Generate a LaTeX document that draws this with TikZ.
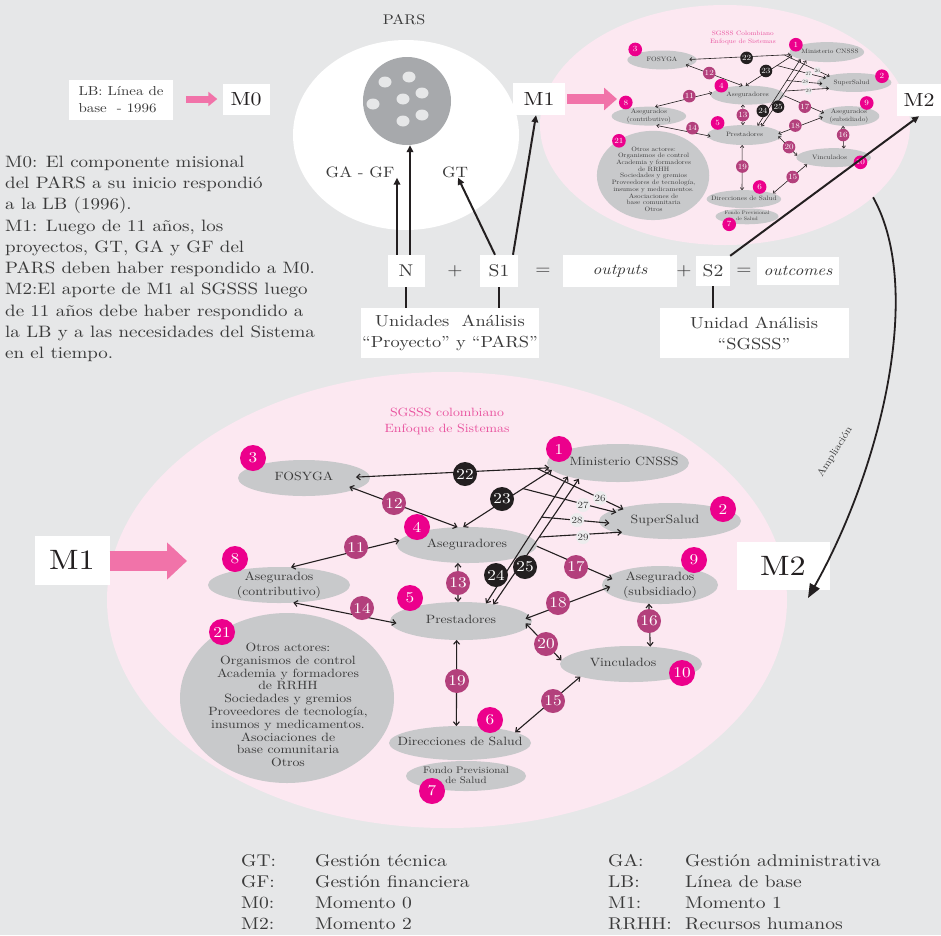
\documentclass[tikz,border=0pt]{standalone}
\usepackage{fontspec}
\setmainfont{lmroman10-regular.otf}[FakeStretch=1.15, ItalicFont=lmroman10-italic.otf, BoldFont=lmroman10-bold.otf]
\usetikzlibrary{arrows.meta,shapes.geometric,calc}
\definecolor{bg}{HTML}{E6E7E8}
\definecolor{pinkbg}{HTML}{FCE8F1}
\definecolor{nodegray}{HTML}{C8C9CB}
\definecolor{badgec}{HTML}{EC008C}
\definecolor{purplec}{HTML}{B3407C}
\definecolor{blackc}{HTML}{231F20}
\definecolor{titlec}{HTML}{E9519E}
\definecolor{arrowpink}{HTML}{F173A9}
\definecolor{txt}{HTML}{3A3A3A}
\definecolor{wlabc}{HTML}{EDEDEE}
\definecolor{parsgray}{HTML}{A7A9AC}
\newcommand\fs[2]{\fontsize{#1}{#2}\selectfont}
\newcommand\ct[1]{\makebox[0pt]{\smash{\raisebox{-0.25em}{\begin{tabular}{@{}c@{}}#1\end{tabular}}}}}
\tikzset{
 actor/.style 2 args={ellipse, fill=nodegray, inner sep=0pt, outer sep=0pt, minimum width=#1, minimum height=#2, text=txt, font=\fs{12}{14.5}},
 ttl/.style={text=titlec, align=center, font=\fs{12}{16}},
 otext/.style={text=txt, align=center, font=\fs{12}{12.8}, inner sep=0pt},
 badge/.style={circle, fill=badgec, text=white, inner sep=0pt, minimum size=26pt, font=\fs{15}{15}},
 lab/.style={circle, fill=purplec, text=white, inner sep=0pt, minimum size=24pt, font=\fs{15}{15}},
 blab/.style={lab, fill=blackc},
 wlab/.style={circle, fill=wlabc, text=txt, inner sep=0pt, minimum size=14pt, font=\fs{9.5}{9.5}},
 conn/.style={draw=blackc, line width=1.1pt},
 bi/.style={conn, <->},
 uni/.style={conn, ->},
 wbox/.style={fill=white, inner sep=0pt, text=txt},
 heavy/.style={draw=blackc, line width=2pt, -{Triangle[length=7pt,width=6.5pt]}},
 stem/.style={draw=blackc, line width=2.2pt},
 plain/.style={text=txt, inner sep=0pt},
}
\newcommand\sgsss[3]{%
 \node[ttl] (#1ttl) at #3 {#2\\Enfoque de Sistemas};
 \node[actor={132pt}{36pt}, outer xsep=-14pt] (#1fos) at (304,478) {\ct{FOSYGA}};
 \node[actor={142pt}{38pt}] (#1min) at (618,463) {\ct{\hspace*{12pt}Ministerio CNSSS}};
 \node[actor={142pt}{36pt}, outer xsep=-10pt] (#1sup) at (670,521) {\ct{SuperSalud\hspace*{10pt}}};
 \node[actor={140pt}{36pt}] (#1ase) at (467,545) {\ct{Aseguradores}};
 \node[actor={142pt}{36pt}] (#1con) at (279,585) {\ct{Asegurados\\(contributivo)}};
 \node[actor={142pt}{38pt}, outer xsep=-6pt] (#1pre) at (461,621) {\ct{Prestadores}};
 \node[actor={116pt}{38pt}, outer xsep=-8pt] (#1sub) at (660,585) {\ct{Asegurados\\(subsidiado)}};
 \node[actor={142pt}{36pt}] (#1vin) at (631,664) {\ct{Vinculados\hspace*{16pt}}};
 \node[actor={142pt}{34pt}] (#1dir) at (460,743) {\ct{Direcciones de Salud}};
 \node[actor={120pt}{30pt}, font=\fs{9.5}{10}] (#1fon) at (466,776) {\ct{Fondo Previsional\\de Salud}};
 \node[actor={214pt}{170pt}] (#1otr) at (287,698) {};
 \node[otext] (#1otrt) at (288,705) {Otros actores:\\Organismos de control\\Academia y formadores\\de RRHH\\Sociedades y gremios\\Proveedores de tecnología,\\insumos y medicamentos.\\Asociaciones de\\base comunitaria\\Otros};
 % connectors
 \draw[bi] (#1fos.1) -- coordinate[pos=0.936] (#1c26) (#1min.184);
 \draw[bi] (#1fos.349) -- (#1ase.118);
 \draw[bi] (#1ase.102) -- coordinate[pos=0.674] (#1c27) (#1min.186);
 \draw[bi] (#1pre.35) -- coordinate[pos=0.68] (#1c28) (#1min.195);
 \draw[bi] (#1pre.27) -- coordinate[pos=0.537] (#1c29) (#1min.202);
 \draw[uni] (#1c26) -- (#1sup.166);
 \draw[uni] (#1c27) -- (#1sup.171);
 \draw[uni] (#1c28) -- (#1sup.182);
 \draw[uni] (#1c29) -- (#1sup.193);
 \draw[bi] (#1con.56) -- (#1ase.176);
 \draw[bi] (#1ase.243) -- (#1pre.99);
 \draw[bi] (#1con.309) -- (#1pre.182);
 \draw[uni] (#1ase.359) -- (#1sub.173);
 \draw[bi] (#1pre.2) -- (#1sub.182);
 \draw[bi] (#1sub.239) -- (#1vin.42);
 \draw[bi] (#1pre.358) -- (#1vin.177);
 \draw[bi] (#1dir.11) -- (#1vin.194);
 \draw[bi] (#1pre.257) -- (#1dir.102);
 % connector labels
 \node[blab] (#1l22) at (465,474) {22};
 \node[lab]  (#1l12) at (394,503) {12};
 \node[blab] (#1l23) at (502,499) {23};
 \node[blab] (#1l24) at (496,575) {24};
 \node[blab] (#1l25) at (525,567) {25};
 \node[wlab] (#1l26) at (600,498) {26};
 \node[wlab] (#1l27) at (583,505) {27};
 \node[wlab] (#1l28) at (577,520) {28};
 \node[wlab] (#1l29) at (583,537) {29};
 \node[lab]  (#1l11) at (356,547) {11};
 \node[lab]  (#1l13) at (458,583) {13};
 \node[lab]  (#1l14) at (362,608) {14};
 \node[lab]  (#1l17) at (576,567) {17};
 \node[lab]  (#1l18) at (558,603) {18};
 \node[lab]  (#1l16) at (649,621) {16};
 \node[lab]  (#1l20) at (546,644) {20};
 \node[lab]  (#1l15) at (553,701) {15};
 \node[lab]  (#1l19) at (457,681) {19};
 % badges
 \node[badge] (#1b1) at (559,449) {1};
 \node[badge] (#1b2) at (723,509) {2};
 \node[badge] (#1b3) at (253,458) {3};
 \node[badge] (#1b4) at (417,527) {4};
 \node[badge] (#1b5) at (410,598) {5};
 \node[badge] (#1b6) at (490,720) {6};
 \node[badge] (#1b7) at (432,791) {7};
 \node[badge] (#1b8) at (235,559) {8};
 \node[badge] (#1b9) at (694,560) {9};
 \node[badge] (#1b10) at (682,673) {10};
 \node[badge] (#1b21) at (222,632) {21};
}
\begin{document}
\begin{tikzpicture}[x=1pt,y=-1pt, >={Straight Barb[length=3.5pt,width=6pt]}]
\useasboundingbox (0,0) rectangle (941,935);
\fill[bg] (0,0) rectangle (941,935);
% background ellipses
\node[ellipse, fill=pinkbg, minimum width=370pt, minimum height=240pt, inner sep=0pt] (smallell) at (725,125) {};
\node[ellipse, fill=pinkbg, minimum width=680pt, minimum height=456pt, inner sep=0pt] (bigell) at (447,600) {};
% small system copy
\begin{scope}[shift={(502.4,-191)}, scale=0.525, transform shape, conn/.append style={line width=0.6pt}, >={Straight Barb[length=2.2pt,width=3.6pt]}]
 \sgsss{s}{SGSSS Colombiano}{(458,436)}
\end{scope}
% big system
\sgsss{g}{SGSSS colombiano}{(447,421)}
% PARS
\node[plain, font=\fs{14}{14}] (parsttl) at (404,20) {PARS};
\node[ellipse, fill=white, minimum width=226pt, minimum height=190pt, inner sep=0pt] (parsell) at (406,135) {};
\node[circle, fill=parsgray, minimum size=88pt, inner sep=0pt] (parscirc) at (407,101) {};
\foreach \px/\py [count=\i] in {385/82, 409/77, 422/93, 403/99, 373/104, 403/121, 422/115}
  \fill[bg] (\px,\py) ellipse [x radius=6.5pt, y radius=5.5pt];
\node[plain, font=\fs{15}{15}] (gagf) at (360,172) {GA - GF};
\node[plain, font=\fs{15}{15}] (gt) at (455,172) {GT};
% equation row
\node[wbox, minimum width=37pt, minimum height=32pt, font=\fs{17}{17}] (n) at (406,271) {N};
\node[plain, font=\fs{17}{17}] (plus1) at (455,271) {+};
\node[wbox, minimum width=38pt, minimum height=32pt, font=\fs{17}{17}] (s1) at (499,271) {S1};
\node[plain, font=\fs{17}{17}] (eq1) at (543,271) {=};
\node[wbox, minimum width=114pt, minimum height=32pt, font=\fs{15}{15}\itshape] (outp) at (620,271) {outputs};
\node[plain, font=\fs{17}{17}] (plus2) at (684,271) {+};
\node[wbox, minimum width=34pt, minimum height=30pt, font=\fs{17}{17}] (s2) at (713,271) {S2};
\node[plain, font=\fs{17}{17}] (eq2) at (744,271) {=};
\node[wbox, minimum width=82pt, minimum height=28pt, font=\fs{15}{15}\itshape] (outc) at (798,271) {outcomes};
\node[wbox, minimum width=178pt, minimum height=50pt, align=center, font=\fs{16}{21}] (unid1) at (450,333) {Unidades\ \ Análisis\\“Proyecto” y “PARS”};
\node[wbox, minimum width=189pt, minimum height=50pt, align=center, font=\fs{16}{21}] (unid2) at (754,333) {Unidad Análisis\\“SGSSS”};
\draw[stem] (n.south) -- (n.south |- unid1.north);
\draw[stem] (s1.south) -- (s1.south |- unid1.north);
\draw[stem] (s2.south) -- (s2.south |- unid2.north);
% M boxes
\node[wbox, align=left, minimum width=104pt, minimum height=40pt, font=\fs{13}{17}] (lb) at (121,100) {LB: Línea de\\base\ \ - 1996};
\node[wbox, minimum width=47pt, minimum height=31pt, font=\fs{19}{19}, text=blackc] (m0) at (246,99) {M0};
\node[wbox, minimum width=52pt, minimum height=32pt, font=\fs{19}{19}, text=blackc] (m1top) at (539,99) {M1};
\node[wbox, minimum width=44pt, minimum height=32pt, font=\fs{19}{19}, text=blackc] (m2top) at (919,100) {M2};
\node[wbox, minimum width=75pt, minimum height=49pt, font=\fs{28}{28}, text=blackc] (m1big) at (72,560) {M1};
\node[wbox, minimum width=93pt, minimum height=48pt, font=\fs{28}{28}, text=blackc] (m2big) at (783,566) {M2};
% pink arrows
\draw[arrowpink, line width=7pt, -{Triangle[length=9pt,width=14pt]}] ([xshift=13pt]lb.east |- m0.west) -- ([xshift=-5pt]m0.west);
\coordinate (m1tip) at (617,99);
\draw[arrowpink, line width=10pt, -{Triangle[length=13pt,width=22pt]}] ([xshift=2pt]m1top.east) -- (m1tip);
\coordinate (m1bigtip) at (187,561);
\draw[arrowpink, line width=20pt, -{Triangle[length=20pt,width=36pt]}] (m1big.east |- m1bigtip) -- (m1bigtip);
% PARS arrows
\draw[heavy] ([xshift=-9pt]n.north) -- ([xshift=-9pt]n.north |- gagf.south);
\draw[heavy] ([xshift=4pt]n.north) -- ([xshift=4pt]n.north |- parscirc.south);
\draw[heavy] ([xshift=-4pt]s1.north) -- ([xshift=3pt]gt.south);
\draw[heavy] ([xshift=14pt]s1.north) -- ([xshift=-3pt]m1top.south);
\draw[heavy] (s2.north east) -- (m2top.south);
% Ampliacion
\coordinate (ampend) at (808,598);
\draw[draw=blackc, line width=1.8pt, -{Triangle[length=14pt,width=11pt]}] (smallell.-26) .. controls (925,290) and (880,470) .. (ampend);
\node[plain, font=\fs{10}{10}, rotate=58] (amptxt) at (835,452) {Ampliación};
% left text
\node[plain, anchor=north west, align=left, font=\fs{16.5}{21.3}] (lefttxt) at (5,155.5) {M0: El componente misional\\del PARS a su inicio respondió\\a la LB (1996).\\M1: Luego de 11 años, los\\proyectos, GT, GA y GF del\\PARS deben haber respondido a M0.\\M2:El aporte de M1 al SGSSS luego\\de 11 años debe haber respondido a\\la LB y a las necesidades del Sistema\\en el tiempo.};
% legend
\node[plain, anchor=north west, align=left, font=\fs{17}{21}] (leg1) at (241,854) {GT:\\GF:\\M0:\\M2:};
\node[plain, anchor=north west, align=left, font=\fs{17}{21}] (leg2) at (315,854) {Gestión técnica\\Gestión financiera\\Momento 0\\Momento 2};
\node[plain, anchor=north west, align=left, font=\fs{17}{21}] (leg3) at (608,854) {GA:\\LB:\\M1:\\RRHH:};
\node[plain, anchor=north west, align=left, font=\fs{17}{21}] (leg4) at (685,854) {Gestión administrativa\\Línea de base\\Momento 1\\Recursos humanos};
\end{tikzpicture}
\end{document}
